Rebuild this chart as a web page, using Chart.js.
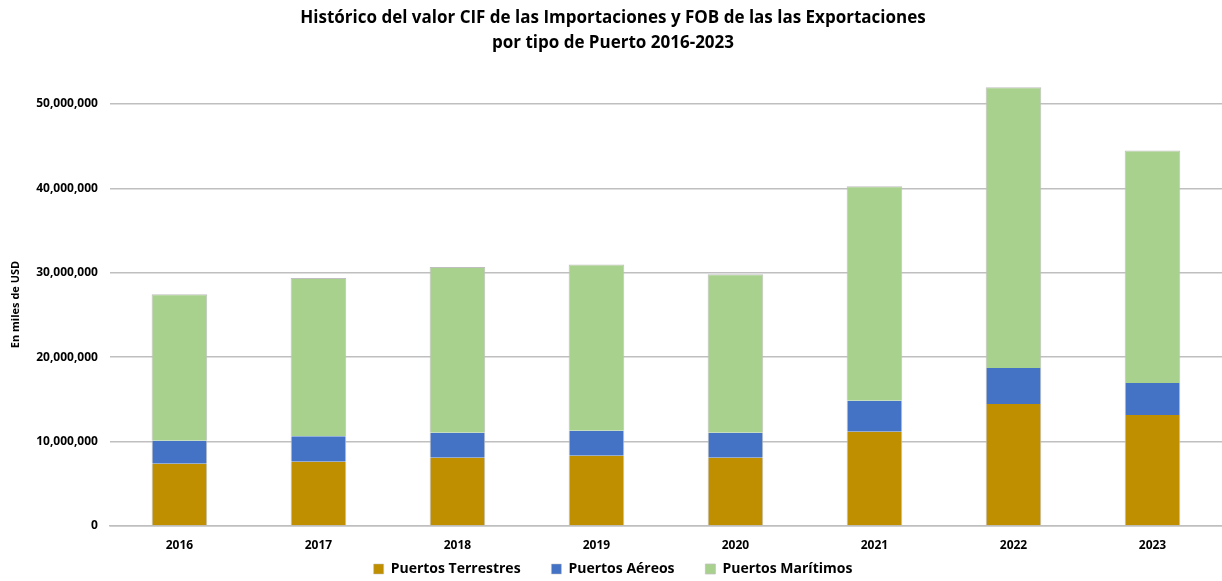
<!DOCTYPE html>
<html><head><meta charset="utf-8">
<script src="https://cdn.jsdelivr.net/npm/chart.js@4/dist/chart.umd.min.js"></script>
<style>html,body{margin:0;padding:0;background:#fff}#wrap{width:1222px;height:581px}</style>
</head><body><div id="wrap"><canvas id="c" width="1222" height="581"></canvas></div>
<script>
const categories = ['2016','2017','2018','2019','2020','2021','2022','2023'];
const terrestres = [7370000, 7610000, 8080000, 8320000, 8080000, 11160000, 14470000, 13140000];
const aereos     = [2730000, 3040000, 2960000, 2960000, 2960000, 3670000, 4260000, 3820000];
const maritimos  = [17360000, 18750000, 19650000, 19720000, 18780000, 25440000, 33270000, 27540000];
const yTicks = [0, 10000000, 20000000, 30000000, 40000000, 50000000];
const FONT = "'Open Sans', 'Liberation Sans', sans-serif";
const border = '#bfbfbf';
new Chart(document.getElementById('c'), {
  type: 'bar',
  data: {
    labels: categories,
    datasets: [
      {label:'Puertos Terrestres', data: terrestres, backgroundColor:'#BF8F00', borderColor:border, borderWidth:{left:1,right:1,top:0,bottom:0}, borderSkipped:false},
      {label:'Puertos Aéreos', data: aereos, backgroundColor:'#4472C4', borderColor:border, borderWidth:{left:1,right:1,top:0,bottom:0}, borderSkipped:false},
      {label:'Puertos Marítimos', data: maritimos, backgroundColor:'#A9D18E', borderColor:border, borderWidth:{left:1,right:1,top:1,bottom:0}, borderSkipped:false}
    ]
  },
  options: {
    responsive:false, animation:false,
    layout:{padding:{left:4,right:0,top:0,bottom:-5}},
    datasets:{bar:{categoryPercentage:0.8, barPercentage:0.5}},
    plugins:{
      title:{display:true, text:['Histórico del valor CIF de las Importaciones y FOB de las las Exportaciones','por tipo de Puerto 2016-2023'],
        font:{family:FONT, size:17, weight:'bold', lineHeight:1.47}, color:'#000', padding:{top:6,bottom:27}},
      legend:{position:'bottom', labels:{font:{family:FONT,size:14,weight:'bold'}, color:'#000', boxWidth:10, boxHeight:10, padding:9, useBorderRadius:false,
        generateLabels:(chart)=>{
          const items = Chart.defaults.plugins.legend.labels.generateLabels(chart);
          items.forEach((it,i)=>{ if(i < items.length-1) it.text = it.text + '      '; });
          return items;
        }}},
      tooltip:{enabled:false}
    },
    scales:{
      x:{stacked:true, grid:{display:false}, border:{display:true,color:'#bfbfbf',width:1.5},
         afterFit:(s)=>{s.height = 27;},
         ticks:{font:{family:FONT,size:12,weight:'bold'}, color:'#000', padding:4}},
      y:{stacked:true, min:0, max:52500000,
         afterBuildTicks:(ax)=>{ax.ticks = yTicks.map(v=>({value:v}));},
         grid:{color:'#bfbfbf', lineWidth:1.5, drawTicks:false},
         border:{display:false},
         ticks:{font:{family:FONT,size:12,weight:'bold'}, color:'#000', padding:12,
           callback:(v)=>v.toLocaleString('en-US')},
         title:{display:true, text:'En miles de USD', font:{family:FONT,size:11,weight:'bold'}, color:'#000', padding:{top:5,bottom:2}}}
    }
  }
});
</script></body></html>
